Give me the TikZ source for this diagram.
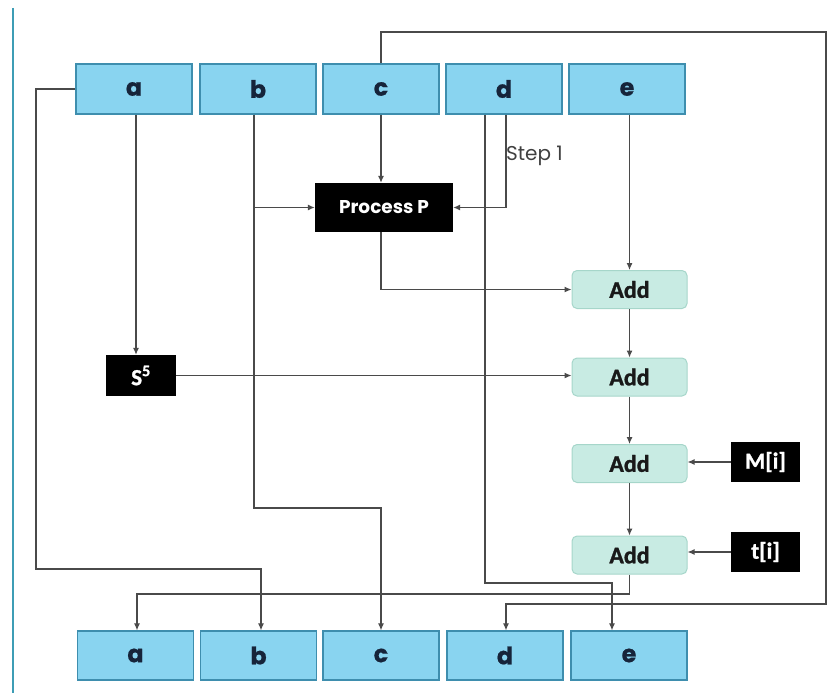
\documentclass[tikz,border=0pt]{standalone}
\usepackage{fontspec}
\setmainfont{Poppins}
\newfontfamily\carlfont{Carlito}[FakeBold=1.2]
\newfontfamily\popheavy{Poppins}[FakeBold=0.6]
\usetikzlibrary{arrows.meta,calc}
\definecolor{boxblue}{HTML}{89D4F0}
\definecolor{boxblueb}{HTML}{3E8EAE}
\definecolor{navy}{HTML}{16243A}
\definecolor{addfill}{HTML}{C8EBE3}
\definecolor{addbord}{HTML}{A6D6CA}
\definecolor{wire}{HTML}{4A4A4A}
\definecolor{sidebar}{HTML}{3D9DB5}
\tikzset{
  regbox/.style={draw=boxblueb,fill=boxblue,line width=1.2pt,minimum width=116pt,minimum height=50pt,inner sep=0pt,
    font=\popheavy\fontsize{24}{26}\selectfont\bfseries,text=navy},
  blackbox/.style={fill=black,text=white,inner sep=0pt},
  addbox/.style={draw=addbord,fill=addfill,line width=1pt,rounded corners=5pt,minimum width=115pt,minimum height=38pt,
    inner sep=0pt,font=\carlfont\fontsize{24}{26}\selectfont\bfseries,text=black!90},
  wireline/.style={draw=wire,line width=1.1pt},
  arr/.style={wireline,-{Latex[length=7pt,width=6pt]}},
}
\begin{document}
\begin{tikzpicture}[x=1pt,y=-1pt]
\useasboundingbox (0,0) rectangle (834,693);
\draw[sidebar,line width=2pt] (13,8) -- (13,693);
% top registers
\node[regbox] (ta) at (134,89) {a};
\node[regbox] (tb) at (258,89) {b};
\node[regbox] (tc) at (381,89) {c};
\node[regbox] (td) at (504,89) {d};
\node[regbox] (te) at (627,89) {e};
% bottom registers
\node[regbox,minimum height=49pt] (ba) at (135.5,655.5) {a};
\node[regbox,minimum height=49pt] (bb) at (258.5,655.5) {b};
\node[regbox,minimum height=49pt] (bc) at (381,655.5) {c};
\node[regbox,minimum height=49pt] (bd) at (505,655.5) {d};
\node[regbox,minimum height=49pt] (be) at (629,655.5) {e};
% process and constants
\node[blackbox,minimum width=138pt,minimum height=49pt,font=\fontsize{18.5}{20}\selectfont\bfseries] (P) at (384,207.5) {Process P};
\node[blackbox,minimum width=70pt,minimum height=41pt,font=\carlfont\fontsize{23}{25}\selectfont\bfseries] (S) at (141,375.5) {S\textsuperscript{5}};
\node[blackbox,minimum width=69pt,minimum height=40pt,font=\carlfont\fontsize{23}{25}\selectfont\bfseries] (M) at (765.5,462) {M[i]};
\node[blackbox,minimum width=69pt,minimum height=40pt,font=\carlfont\fontsize{23}{25}\selectfont\bfseries] (T) at (765.5,552) {t[i]};
% adders
\node[addbox] (A1) at (629.5,289.5) {Add};
\node[addbox] (A2) at (629.5,377) {Add};
\node[addbox] (A3) at (629.5,463.5) {Add};
\node[addbox] (A4) at (629.5,555) {Add};
\node[anchor=west,font=\fontsize{20}{22}\selectfont,text=black!75,inner sep=0pt] (step) at (506,156) {Step 1};
% helper coordinates
\coordinate (r1) at (826,32);
\coordinate (r2) at (826,604);
\coordinate (bturn) at (254,508);
\coordinate (dturn) at (485,583);
\coordinate (ab) at (36,569);
\coordinate (yo) at (0,594);
% connectors
\draw[arr] (tc.north) |- (r1) -- (r2) -| ([xshift=1pt]bd.north);
\draw[arr] (tc.south) -- (P.north -| tc.south);
\draw[arr] ([xshift=-4pt]tb.south) -- (bturn) -| (bc.north);
\draw[arr] (P.west -| bturn) -- (P.west);
\draw[arr] ([xshift=2pt]td.south) |- (P.east);
\draw[arr] ([xshift=-19pt]td.south) -- (dturn) -| ([xshift=-17pt]be.north);
\draw[arr] (ta.west) -| (ab) -| ([xshift=2.5pt]bb.north);
\draw[arr] ([xshift=2pt]ta.south) -- ([xshift=-5pt]S.north);
\draw[arr] (S.east) -- (A2.west |- S.east);
\draw[arr] ([xshift=-3pt]P.south) |- (A1.west);
\draw[arr] (te.south -| A1.north) -- (A1.north);
\draw[arr] (A1) -- (A2);
\draw[arr] (A2) -- (A3);
\draw[arr] (A3) -- (A4);
\draw[arr] (M.west) -- (A3.east |- M.west);
\draw[arr] (T.west) -- (A4.east |- T.west);
\draw[arr] (A4.south) -- (A4.south |- yo) -| ([xshift=1.5pt]ba.north);
\end{tikzpicture}
\end{document}
